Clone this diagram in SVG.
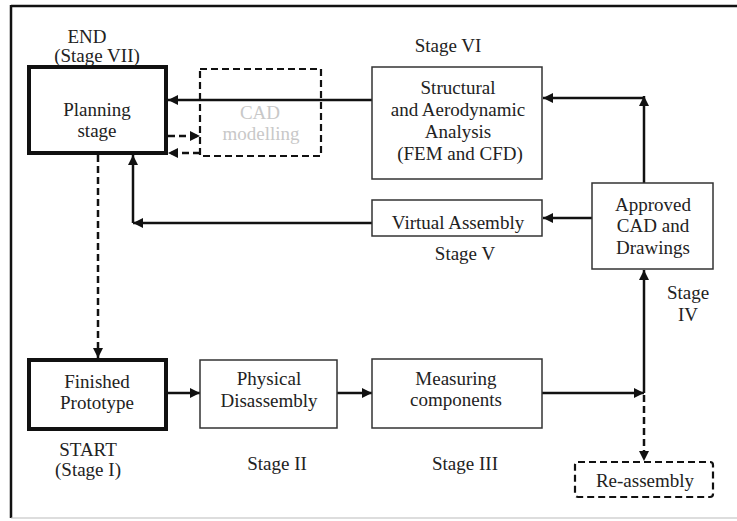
<svg xmlns="http://www.w3.org/2000/svg" width="737" height="521" viewBox="0 0 737 521">
<defs>
<marker id="ah" viewBox="0 0 10 10" refX="10" refY="5" markerWidth="10" markerHeight="10" markerUnits="userSpaceOnUse" orient="auto">
<path d="M0,0 L10,5 L0,10 z" fill="#111"/>
</marker>
<style>
text{font-family:"Liberation Serif","Times New Roman",serif;font-size:19px;fill:#222;text-anchor:middle}
.box{fill:#fff;stroke:#333;stroke-width:1.5}
.thick{fill:#fff;stroke:#111;stroke-width:4}
.dbox{fill:none;stroke:#111;stroke-width:2.2;stroke-dasharray:7,4}
.c{fill:none;stroke:#111;stroke-width:2.5}
.d{fill:none;stroke:#111;stroke-width:2.5;stroke-dasharray:7,4}
.faint{fill:#c8c8c8}
</style>
</defs>
<rect width="737" height="521" fill="#fff"/>
<g id="frame">
<line x1="11" y1="6" x2="737" y2="6" stroke="#111" stroke-width="2.5"/>
<line x1="11" y1="5" x2="11" y2="518" stroke="#111" stroke-width="2.5"/>
<line x1="11" y1="518" x2="737" y2="518" stroke="#bbb" stroke-width="1"/>
</g>
<g id="connectors">
<line class="c" x1="372" y1="100" x2="168" y2="100" marker-end="url(#ah)"/>
<line class="d" x1="168" y1="136" x2="200" y2="136" marker-end="url(#ah)"/>
<line class="d" x1="200" y1="153" x2="168" y2="153" marker-end="url(#ah)"/>
<line class="c" x1="372" y1="223" x2="133" y2="223" marker-end="url(#ah)"/>
<line class="c" x1="133" y1="223" x2="133" y2="155" marker-end="url(#ah)"/>
<line class="c" x1="644" y1="183" x2="644" y2="96" marker-end="url(#ah)"/>
<line class="c" x1="644" y1="98" x2="543" y2="98" marker-end="url(#ah)"/>
<line class="c" x1="592" y1="218" x2="543" y2="218" marker-end="url(#ah)"/>
<line class="d" x1="98" y1="155" x2="98" y2="358" marker-end="url(#ah)"/>
<line class="c" x1="168" y1="393" x2="200" y2="393" marker-end="url(#ah)"/>
<line class="c" x1="337" y1="393" x2="372" y2="393" marker-end="url(#ah)"/>
<line class="c" x1="542" y1="393" x2="644" y2="393" marker-end="url(#ah)"/>
<line class="c" x1="644" y1="393" x2="644" y2="270" marker-end="url(#ah)"/>
<line class="d" x1="644" y1="395" x2="644" y2="461" marker-end="url(#ah)"/>
</g>
<g id="planning">
<rect class="thick" x="29" y="67" width="137" height="86"/>
<text x="87" y="43">END</text>
<text x="97" y="62">(Stage VII)</text>
<text x="97" y="116">Planning</text>
<text x="97" y="137">stage</text>
</g>
<g id="cad">
<rect class="dbox" x="200" y="69" width="121" height="87"/>
<text class="faint" x="260" y="119">CAD</text>
<text class="faint" x="261" y="140">modelling</text>
</g>
<g id="structural">
<rect class="box" x="372" y="67" width="170" height="112"/>
<text x="448" y="52">Stage VI</text>
<text x="458" y="94">Structural</text>
<text x="458" y="116">and Aerodynamic</text>
<text x="458" y="138">Analysis</text>
<text x="460" y="160">(FEM and CFD)</text>
</g>
<g id="virtual">
<rect class="box" x="372" y="200" width="170" height="36"/>
<text x="458" y="229">Virtual Assembly</text>
<text x="465" y="260">Stage V</text>
</g>
<g id="approved">
<rect class="box" x="592" y="183" width="121" height="86"/>
<text x="653" y="211">Approved</text>
<text x="653" y="232">CAD and</text>
<text x="653" y="254">Drawings</text>
<text x="688" y="299">Stage</text>
<text x="688" y="321">IV</text>
</g>
<g id="finished">
<rect class="thick" x="29" y="360" width="137" height="69"/>
<text x="97" y="388">Finished</text>
<text x="97" y="409">Prototype</text>
<text x="88" y="456">START</text>
<text x="88" y="476">(Stage I)</text>
</g>
<g id="physical">
<rect class="box" x="200" y="360" width="137" height="68"/>
<text x="269" y="385">Physical</text>
<text x="269" y="407">Disassembly</text>
<text x="277" y="470">Stage II</text>
</g>
<g id="measuring">
<rect class="box" x="372" y="359" width="170" height="69"/>
<text x="456" y="385">Measuring</text>
<text x="456" y="406">components</text>
<text x="465" y="470">Stage III</text>
</g>
<g id="reassembly">
<rect class="dbox" x="575" y="462" width="138" height="35" rx="3"/>
<text x="645" y="487">Re-assembly</text>
</g>
</svg>
